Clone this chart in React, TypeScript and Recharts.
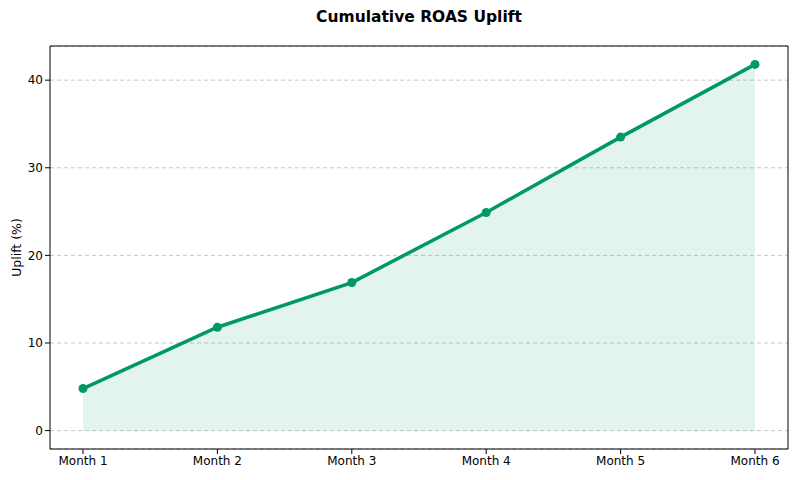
import React from "react";
import { ComposedChart, Line, Area, XAxis, YAxis, CartesianGrid } from "recharts";

const months = ["Month 1", "Month 2", "Month 3", "Month 4", "Month 5", "Month 6"];
const uplift = [4.8, 11.8, 16.9, 24.9, 33.5, 41.8];
const yTicks = [0, 10, 20, 30, 40];

const data = months.map((m, i) => ({ month: m, uplift: uplift[i] }));

const COLOR = "#009966";
const FONT = "DejaVu Sans, sans-serif";

export default function App() {
  return (
    <div style={{ position: "absolute", left: 0, top: 0, width: 800, height: 480, background: "#fff" }}>
      <div
        style={{
          position: "absolute",
          top: 8,
          left: 0,
          width: 838,
          textAlign: "center",
          fontFamily: FONT,
          fontWeight: "bold",
          fontSize: 15.5,
          color: "#000",
        }}
      >
        Cumulative ROAS Uplift
      </div>
      <ComposedChart
        width={800}
        height={480}
        data={data}
        margin={{ top: 45, right: 11, bottom: 0, left: 0 }}
        style={{ fontFamily: FONT }}
      >
        <CartesianGrid horizontal vertical={false} stroke="#c8c8c8" strokeDasharray="4 3" />
        <XAxis
          dataKey="month"
          type="category"
          padding={{ left: 33, right: 33 }}
          tick={{ fontSize: 12, fill: "#000" }}
          tickLine={{ stroke: "#000" }}
          tickSize={5}
          axisLine={{ stroke: "#000" }}
          height={31}
          interval={0}
        />
        <XAxis
          xAxisId="top"
          dataKey="month"
          orientation="top"
          height={1}
          tick={false}
          tickLine={false}
          axisLine={{ stroke: "#000" }}
        />
        <YAxis
          type="number"
          domain={[-2.1, 43.9]}
          ticks={yTicks}
          tick={{ fontSize: 12, fill: "#000" }}
          tickLine={{ stroke: "#000" }}
          tickSize={5}
          axisLine={{ stroke: "#000" }}
          width={50}
          allowDataOverflow
          label={{
            value: "Uplift (%)",
            angle: -90,
            position: "insideLeft",
            offset: 17,
            style: { textAnchor: "middle", fontSize: 12.5, fill: "#000" },
          }}
        />
        <YAxis
          yAxisId="right"
          orientation="right"
          width={1}
          domain={[0, 1]}
          tick={false}
          tickLine={false}
          axisLine={{ stroke: "#000" }}
        />
        <Area
          dataKey="uplift"
          type="linear"
          fill={COLOR}
          fillOpacity={0.11}
          stroke="none"
          baseValue={0}
          isAnimationActive={false}
          dot={false}
          activeDot={false}
        />
        <Line
          dataKey="uplift"
          type="linear"
          stroke={COLOR}
          strokeWidth={3.5}
          dot={{ r: 4.5, fill: COLOR, stroke: COLOR, strokeWidth: 0 }}
          activeDot={false}
          isAnimationActive={false}
        />
      </ComposedChart>
    </div>
  );
}
